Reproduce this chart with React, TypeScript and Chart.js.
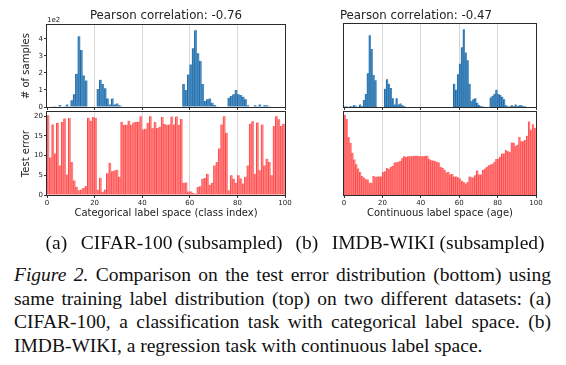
import React, { useEffect, useRef } from "react";
import { Chart, registerables } from "chart.js";
Chart.register(...registerables);

// ---------- data ----------
const BIN_STARTS = [
  0, 1, 2, 3, 4, 5, 6, 7, 8, 9, 10, 11, 12, 13, 14, 15, 16, 17, 18, 19,
  20, 21, 22, 23, 24, 25, 26, 27, 28, 29, 30, 31, 32, 33, 34, 35, 36, 37, 38, 39,
  40, 41, 42, 43, 44, 45, 46, 47, 48, 49, 50, 51, 52, 53, 54, 55, 56, 57, 58, 59,
  60, 61, 62, 63, 64, 65, 66, 67, 68, 69, 70, 71, 72, 73, 74, 75, 76, 77, 78, 79,
  80, 81, 82, 83, 84, 85, 86, 87, 88, 89, 90, 91, 92, 93, 94, 95, 96, 97, 98, 99,
];

// training label distribution, in units of 1e2 samples
const TRAIN_COUNTS = [
  0.03, 0.03, 0.02, 0.04, 0.03, 0.12, 0.03, 0.02, 0.14, 0.05,
  0.4, 0.75, 1.95, 4.15, 3.35, 1.85, 1.55, 0, 0, 0,
  0, 1.05, 1.6, 1.35, 1.1, 0.5, 0.15, 0.5, 0.15, 0.2,
  0.1, 0.05, 0, 0, 0, 0, 0, 0, 0, 0,
  0, 0, 0, 0, 0, 0, 0, 0, 0, 0,
  0, 0, 0, 0, 0, 0, 0, 1.35, 1.0, 1.9,
  2.5, 3.45, 4.5, 3.15, 2.7, 1.35, 0.35, 0.45, 0.5, 0.25,
  0.12, 0.05, 0.03, 0, 0, 0, 0.55, 0.65, 0.75, 1.0,
  0.75, 0.7, 0.6, 0.45, 0.1, 0.03, 0.03, 0.1, 0.05, 0.15,
  0.05, 0.1, 0.1, 0.05, 0.03, 0, 0, 0, 0, 0,
];

const CIFAR_ERROR = [
  20.2, 9.5, 17.9, 10.5, 18.3, 7.5, 18.5, 19.4, 5.2, 19.5,
  8.4, 3.7, 2.1, 1.2, 1.4, 1.8, 2.3, 19.6, 18.8, 19.8,
  19.6, 1.3, 4.4, 0.8, 1.4, 5.5, 8.2, 6.0, 6.2, 6.4,
  4.6, 18.6, 17.8, 17.8, 18.8, 17.8, 18.4, 18.6, 18.6, 20.0,
  16.6, 16.8, 18.3, 20.0, 16.9, 18.5, 17.0, 17.3, 19.8, 18.0,
  17.8, 17.9, 19.9, 17.9, 19.9, 17.8, 19.3, 3.1, 3.2, 0.9,
  0.9, 0.6, 0.3, 2.0, 2.2, 4.1, 4.3, 5.4, 2.6, 3.1,
  7.5, 8.4, 11.8, 17.9, 20.0, 15.8, 1.2, 5.0, 4.1, 3.1,
  5.0, 4.2, 2.9, 4.6, 7.5, 18.1, 18.7, 5.4, 18.4, 6.3,
  17.9, 7.5, 9.2, 8.4, 5.0, 17.5, 20.0, 19.2, 17.5, 18.1,
];

const IMDB_ERROR = [
  20.3, 19.2, 14.7, 13.2, 10.7, 9.0, 7.8, 6.7, 5.8, 4.8,
  4.4, 4.0, 3.9, 3.1, 3.1, 4.8, 4.6, 4.7, 4.7, 4.7,
  5.8, 6.0, 6.8, 6.6, 7.1, 7.4, 8.2, 8.3, 8.4, 8.6,
  9.3, 9.8, 9.6, 9.8, 9.8, 9.8, 9.9, 9.9, 9.9, 9.8,
  9.8, 9.8, 9.9, 9.9, 9.2, 8.8, 8.7, 8.6, 8.4, 8.2,
  7.1, 6.9, 6.4, 5.7, 5.9, 5.2, 5.3, 4.7, 4.7, 4.5,
  4.2, 3.6, 3.3, 2.9, 3.3, 4.7, 4.5, 4.4, 5.0, 6.2,
  5.2, 5.2, 6.3, 6.7, 7.1, 7.5, 7.7, 7.9, 8.4, 9.1,
  9.2, 9.7, 10.5, 10.5, 11.4, 11.1, 10.9, 13.3, 13.2, 12.4,
  12.7, 14.7, 13.6, 13.6, 13.9, 15.0, 18.6, 16.5, 17.9, 17.0,
];

const X_TICKS = [0, 20, 40, 60, 80, 100];
const COUNT_TICKS = [0, 1, 2, 3, 4];
const ERROR_TICKS = [0, 5, 10, 15, 20];
const TITLES = ["Pearson correlation: -0.76", "Pearson correlation: -0.47"];
const X_TITLES = ["Categorical label space (class index)", "Continuous label space (age)"];
const Y_TITLES = ["# of samples", "Test error"];
const SUBCAPTIONS = ["(a)\u2002\u2009CIFAR-100 (subsampled)", "(b)\u2002\u2009IMDB-WIKI (subsampled)"];

const FONT = "'DejaVu Sans', sans-serif";
const SERIF = "'Liberation Serif', 'Times New Roman', serif";

const framePlugin = {
  id: "frame",
  afterDraw(chart: any) {
    const { ctx, chartArea: a } = chart;
    ctx.save();
    ctx.strokeStyle = "#2b2b2b";
    ctx.lineWidth = 1;
    const l = Math.round(a.left) - 0.5;
    const t = Math.round(a.top) - 0.5;
    const r = Math.round(a.right) + 0.5;
    const b = Math.round(a.bottom) + 0.5;
    ctx.strokeRect(l, t, r - l, b - t);
    ctx.restore();
  },
};

type Cfg = {
  values: number[];
  fill: string;
  edge: string;
  yMax: number;
  yTicks: number[] | null;
  yTitle: string | null;
  xTitle: string | null;
  xLabels: boolean;
  xHeight: number;
  padding: { left: number; top: number; right: number; bottom: number };
};

function build(canvas: HTMLCanvasElement, c: Cfg) {
  return new Chart(canvas, {
    type: "bar",
    data: {
      datasets: [
        {
          data: BIN_STARTS.map((b, i) => ({ x: b + 0.5, y: c.values[i] })),
          backgroundColor: c.fill,
          borderColor: c.edge,
          borderWidth: { left: 1, right: 0, top: 0, bottom: 0 },
          borderSkipped: false,
          inflateAmount: 0.5,
          barPercentage: 1,
          categoryPercentage: 1,
        } as any,
      ],
    },
    options: {
      responsive: false,
      animation: false,
      devicePixelRatio: 1,
      layout: { padding: c.padding },
      plugins: {
        legend: { display: false },
        tooltip: { enabled: false },
        title: { display: false },
      },
      scales: {
        x: {
          type: "linear",
          min: 0,
          max: 100,
          offset: false,
          afterBuildTicks: (s: any) => {
            s.ticks = X_TICKS.map((v) => ({ value: v }));
          },
          afterFit: (s: any) => {
            s.height = c.xHeight;
          },
          border: { display: false },
          grid: {
            offset: false,
            drawOnChartArea: true,
            drawTicks: true,
            tickLength: 3,
            tickColor: "#333",
            lineWidth: 1,
            color: (ctx: any) =>
              ctx.tick && (ctx.tick.value === 0 || ctx.tick.value === 100)
                ? "rgba(0,0,0,0)"
                : "#d6d6d6",
          },
          ticks: {
            display: c.xLabels,
            autoSkip: false,
            maxRotation: 0,
            padding: 1,
            color: "#222",
            font: { family: FONT, size: 7 },
          },
          title: {
            display: !!c.xTitle,
            text: c.xTitle || "",
            color: "#222",
            padding: { top: 0, bottom: 0 },
            font: { family: FONT, size: 10 },
          },
        } as any,
        y: {
          type: "linear",
          display: !!c.yTicks,
          min: 0,
          max: c.yMax,
          afterBuildTicks: (s: any) => {
            if (c.yTicks) s.ticks = c.yTicks.map((v) => ({ value: v }));
          },
          afterFit: (s: any) => {
            s.width = 47;
          },
          border: { display: false },
          grid: {
            drawOnChartArea: false,
            drawTicks: true,
            tickLength: 3,
            tickColor: "#333",
          },
          ticks: {
            padding: 1,
            color: "#222",
            font: { family: FONT, size: 7 },
          },
          title: {
            display: !!c.yTitle,
            text: c.yTitle || "",
            color: "#222",
            padding: { top: 20, bottom: 0 },
            font: { family: FONT, size: 10 },
          },
        } as any,
      },
    },
    plugins: [framePlugin],
  });
}

const BLUE_FILL = "rgb(72,141,196)";
const BLUE_EDGE = "rgb(31,102,160)";
const RED_FILL = "rgb(255,128,128)";
const RED_EDGE = "rgb(255,70,70)";

type Panel = {
  left: number;
  top: number;
  w: number;
  h: number;
  cfg: Cfg;
};

const PANELS: Panel[] = [
  {
    left: 0, top: 20, w: 296, h: 93,
    cfg: {
      values: TRAIN_COUNTS, fill: BLUE_FILL, edge: BLUE_EDGE, yMax: 4.8,
      yTicks: COUNT_TICKS, yTitle: Y_TITLES[0], xTitle: null, xLabels: false, xHeight: 6,
      padding: { left: 0, top: 4, right: 11, bottom: 0 },
    },
  },
  {
    left: 0, top: 107, w: 296, h: 112,
    cfg: {
      values: CIFAR_ERROR, fill: RED_FILL, edge: RED_EDGE, yMax: 21,
      yTicks: ERROR_TICKS, yTitle: Y_TITLES[1], xTitle: X_TITLES[0], xLabels: true, xHeight: 24,
      padding: { left: 0, top: 5, right: 11, bottom: 0 },
    },
  },
  {
    left: 287, top: 20, w: 259, h: 93,
    cfg: {
      values: TRAIN_COUNTS, fill: BLUE_FILL, edge: BLUE_EDGE, yMax: 4.8,
      yTicks: null, yTitle: null, xTitle: null, xLabels: false, xHeight: 6,
      padding: { left: 10, top: 4, right: 10, bottom: 0 },
    },
  },
  {
    left: 287, top: 107, w: 259, h: 112,
    cfg: {
      values: IMDB_ERROR, fill: RED_FILL, edge: RED_EDGE, yMax: 21,
      yTicks: null, yTitle: null, xTitle: X_TITLES[1], xLabels: true, xHeight: 24,
      padding: { left: 10, top: 5, right: 10, bottom: 0 },
    },
  },
];

function ChartCanvas({ p }: { p: Panel }) {
  const ref = useRef<HTMLCanvasElement | null>(null);
  useEffect(() => {
    if (!ref.current) return;
    const chart = build(ref.current, p.cfg);
    return () => chart.destroy();
  }, [p]);
  return (
    <canvas
      ref={ref}
      width={p.w}
      height={p.h}
      style={{ position: "absolute", left: p.left, top: p.top, width: p.w, height: p.h }}
    />
  );
}

export default function App() {
  const text = (extra: any) => ({
    position: "absolute" as const,
    fontFamily: FONT,
    color: "#222",
    whiteSpace: "nowrap" as const,
    ...extra,
  });
  const sub = (left: number) => ({
    position: "absolute" as const,
    left,
    width: 270,
    top: 232,
    textAlign: "center" as const,
    fontFamily: SERIF,
    fontSize: 19.5,
    lineHeight: "22px",
    color: "#111",
    whiteSpace: "nowrap" as const,
  });
  return (
    <div
      style={{
        position: "absolute",
        left: 0,
        top: 0,
        width: 566,
        height: 365,
        background: "#fff",
        overflow: "hidden",
      }}
    >
      {PANELS.map((p, i) => (
        <ChartCanvas key={i} p={p} />
      ))}
      <div style={text({ left: 16, width: 300, top: 8, textAlign: "center", fontSize: 11.8, lineHeight: "14px" })}>
        {TITLES[0]}
      </div>
      <div style={text({ left: 266, width: 300, top: 8, textAlign: "center", fontSize: 11.8, lineHeight: "14px" })}>
        {TITLES[1]}
      </div>
      <div style={text({ left: 47, top: 16, fontSize: 7, lineHeight: "8px" })}>1e2</div>
      <div style={sub(29)}>{SUBCAPTIONS[0]}</div>
      <div style={sub(285)}>{SUBCAPTIONS[1]}</div>
      <div
        style={{
          position: "absolute",
          left: 14,
          width: 537,
          top: 263,
          fontFamily: SERIF,
          fontSize: 19.5,
          lineHeight: "23.7px",
          color: "#111",
          textAlign: "justify",
          textAlignLast: "left",
        } as any}
      >
        <i>Figure 2.</i> Comparison on the test error distribution (bottom) using same training label
        distribution (top) on two different datasets: (a) CIFAR-100, a classification task with
        categorical label space. (b) IMDB-WIKI, a regression task with continuous label space.
      </div>
    </div>
  );
}
